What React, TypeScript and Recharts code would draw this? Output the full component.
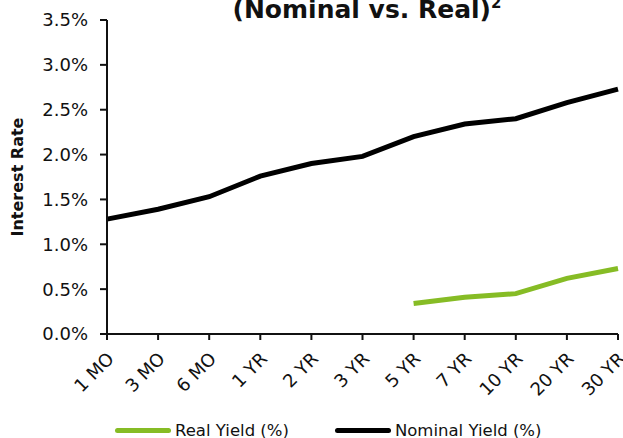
import React from "react";
import { LineChart, Line, XAxis, YAxis, Legend } from "recharts";

const maturities = ["1 MO", "3 MO", "6 MO", "1 YR", "2 YR", "3 YR", "5 YR", "7 YR", "10 YR", "20 YR", "30 YR"];
const nominalYield = [1.28, 1.39, 1.53, 1.76, 1.9, 1.98, 2.2, 2.34, 2.4, 2.58, 2.73];
const realYield = [null, null, null, null, null, null, 0.34, 0.41, 0.45, 0.62, 0.73];
const yTicks = [0, 0.5, 1, 1.5, 2, 2.5, 3, 3.5];
const legendOrder = ["Real Yield (%)", "Nominal Yield (%)"];

const FONT = "Verdana, 'DejaVu Sans', sans-serif";
const GREEN = "#86bc25";

const data = maturities.map((m, i) => ({
    maturity: m,
    real: realYield[i],
    nominal: nominalYield[i],
}));

// rotated category labels, end of text sits just right of the tick
const XTick = ({ x, y, payload }: any) => {
    const tx = x + 8;
    const ty = y + 18;
    return (
        <text x={tx} y={ty} transform={`rotate(-45, ${tx}, ${ty})`} textAnchor="end" fill="#111" fontSize={18} fontFamily={FONT}>
            {payload.value}
        </text>
    );
};

const LegendContent = ({ payload }: any) => {
    const items = [...(payload || [])].sort((a: any, b: any) => legendOrder.indexOf(a.value) - legendOrder.indexOf(b.value));
    return (
        <div style={{ display: "flex", alignItems: "center", paddingLeft: 115, fontFamily: FONT, fontSize: 16.5, color: "#111", height: 20 }}>
            {items.map((p: any, i: number) => (
                <div key={`leg-${i}`} style={{ display: "flex", alignItems: "center", marginRight: 46 }}>
                    <span style={{ display: "inline-block", width: 56, height: 5, borderRadius: 3, background: p.color, marginRight: 4 }} />
                    <span>{p.value}</span>
                </div>
            ))}
        </div>
    );
};

export default function App() {
    return (
        <div style={{ position: "absolute", left: 0, top: 0, width: 623, height: 438, background: "#fff" }}>
            <LineChart width={623} height={438} data={data} margin={{ top: 20, right: 5, left: 0, bottom: 0 }}>
                <text x={367} y={18} textAnchor="middle" fontFamily={FONT} fontSize={25} fontWeight="bold" fill="#111">
                    (Nominal vs. Real)<tspan dy={-10} fontSize={15}>2</tspan>
                </text>
                <XAxis
                    dataKey="maturity"
                    height={84}
                    interval={0}
                    stroke="#111"
                    strokeWidth={2}
                    tickSize={6}
                    tick={<XTick />}
                    tickLine={{ stroke: "#111", strokeWidth: 2 }}
                />
                <YAxis
                    width={107}
                    domain={[0, 3.5]}
                    ticks={yTicks}
                    interval={0}
                    stroke="#111"
                    strokeWidth={2}
                    tickSize={7}
                    tickMargin={12}
                    tick={{ fill: "#111", fontSize: 18, fontFamily: FONT }}
                    tickLine={{ stroke: "#111", strokeWidth: 2 }}
                    tickFormatter={(v: number) => `${v.toFixed(1)}%`}
                    label={{
                        content: ({ viewBox }: any) => {
                            const cy = viewBox.y + viewBox.height / 2;
                            return (
                                <text x={23} y={cy} transform={`rotate(-90, 23, ${cy})`} textAnchor="middle" fontFamily={FONT} fontSize={16} fontWeight="bold" fill="#111">
                                    Interest Rate
                                </text>
                            );
                        },
                    }}
                />
                <Legend height={20} content={<LegendContent />} wrapperStyle={{ left: 0, top: 420, width: 623 }} />
                <Line type="linear" dataKey="real" name="Real Yield (%)" stroke={GREEN} strokeWidth={5} dot={false} activeDot={false} isAnimationActive={false} />
                <Line type="linear" dataKey="nominal" name="Nominal Yield (%)" stroke="#000" strokeWidth={5} dot={false} activeDot={false} isAnimationActive={false} />
            </LineChart>
        </div>
    );
}
